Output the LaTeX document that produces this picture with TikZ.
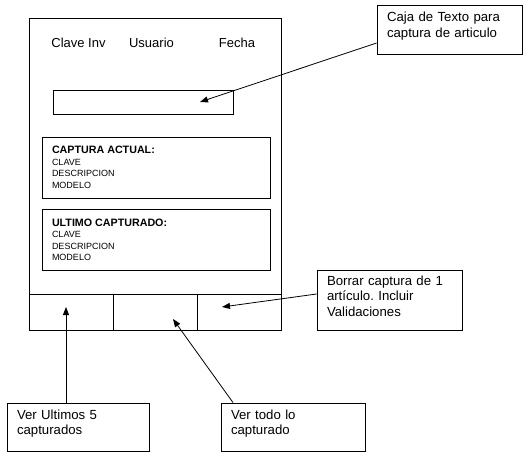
\documentclass[tikz,border=0pt]{standalone}
\usepackage{fontspec}
\setmainfont{Liberation Sans}
\frenchspacing
\usetikzlibrary{arrows.meta,positioning}

\begin{document}
\begin{tikzpicture}[x=1pt,y=-1pt,
  box/.style={draw,line width=0.9pt,inner sep=0pt},
  note/.style={draw,line width=0.9pt,align=left,inner xsep=10pt,inner ysep=0pt,font=\fontsize{13.2}{15.5}\selectfont},
  head/.style={font=\fontsize{13}{15}\selectfont},
  panel/.style={draw,line width=0.9pt,align=left,inner xsep=10pt,inner ysep=0pt,minimum width=228pt,minimum height=61pt,text width=208pt,font=\fontsize{9}{11.5}\selectfont},
  callout/.style={line width=0.8pt,-{Triangle[length=8pt,width=6pt]}}
]
  \useasboundingbox (0,0) rectangle (530,458);
  % pantalla
  \node[box,minimum width=252pt,minimum height=312pt] (frame) at (155,174) {};
  \node[head] (clave) at (78.5,43) {Clave Inv};
  \node[head] (usuario) at (151.5,43) {Usuario};
  \node[head] (fecha) at (237,43) {Fecha};
  \node[box,minimum width=180pt,minimum height=24pt] (txtbox) at (143,102) {};
  \node[panel] (actual) at (156,167.5) {{\fontsize{10.7}{13}\selectfont\bfseries CAPTURA ACTUAL:}\\CLAVE\\DESCRIPCION\\MODELO};
  \node[panel] (ultimo) at (156,240) {{\fontsize{10.7}{13}\selectfont\bfseries ULTIMO CAPTURADO:}\\CLAVE\\DESCRIPCION\\MODELO};
  \node[box,minimum width=84pt,minimum height=36pt] (btnult) at (71,312) {};
  \node[box,minimum width=84pt,minimum height=36pt] (btntodo) at (155,312) {};
  \node[box,minimum width=84pt,minimum height=36pt] (btnborrar) at (239,312) {};
  % notas
  \node[note,text width=125pt,minimum width=145pt,minimum height=49pt,text depth=25pt] (caja) at (449.5,29.5) {Caja de Texto para\\captura de articulo};
  \node[note,text width=125pt,minimum width=145pt,minimum height=60pt,text depth=39pt] (borrar) at (389.5,300) {Borrar captura de 1\\artículo. Incluir\\Validaciones};
  \node[note,text width=122pt,minimum width=142pt,minimum height=48pt,text depth=25pt] (ultimos) at (78,427) {Ver Ultimos 5\\capturados};
  \node[note,text width=124pt,minimum width=144pt,minimum height=48pt,text depth=25pt] (todo) at (293,427) {Ver todo lo\\capturado};
  % puntas
  \coordinate (cajaend) at (200,102);
  \coordinate (borrarend) at (222,307);
  \coordinate (ultend) at (66,307);
  \coordinate (todoend) at (173,319);
  \draw[callout] ([yshift=-13.5pt]caja.west) -- (cajaend);
  \draw[callout] ([yshift=6pt]borrar.west) -- (borrarend);
  \draw[callout] ([xshift=-12pt]ultimos.north) -- (ultend);
  \draw[callout] ([xshift=-60pt]todo.north) -- (todoend);
\end{tikzpicture}
\end{document}
